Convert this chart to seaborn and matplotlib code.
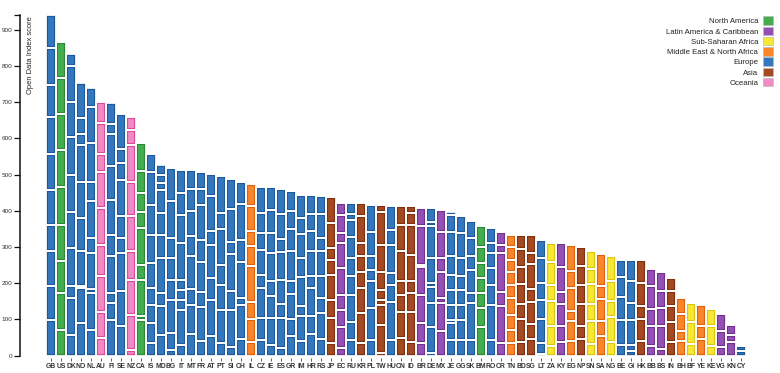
import numpy as np
import matplotlib
matplotlib.use("Agg")
import matplotlib.pyplot as plt
import seaborn as sns
from matplotlib.patches import Patch

countries = ["GB", "US", "DK", "NO", "NL", "AU", "FI", "SE", "NZ", "CA",
             "IS", "MD", "BG", "IT", "MT", "FR", "AT", "PT", "SI", "CH",
             "IL", "CZ", "IE", "ES", "GR", "IM", "HR", "RS", "JP", "EC",
             "RU", "KR", "PL", "TW", "HU", "CN", "ID", "BR", "DE", "MX",
             "JE", "GG", "SK", "BM", "RO", "CR", "TN", "BD", "SG", "LT",
             "ZA", "KY", "EG", "NP", "SN", "SA", "NG", "BE", "GI", "HK",
             "BB", "BS", "IN", "BH", "BF", "YE", "KE", "VG", "KN", "CY"]

EU, NA, LA, SSA, MENA, AS, OC = ("Europe", "North America", "Latin America & Caribbean",
                                 "Sub-Saharan Africa", "Middle East & North Africa",
                                 "Asia", "Oceania")
regions = [EU, NA, EU, EU, EU, OC, EU, EU, OC, NA,
           EU, EU, EU, EU, EU, EU, EU, EU, EU, EU,
           MENA, EU, EU, EU, EU, EU, EU, EU, AS, LA,
           EU, AS, EU, AS, EU, AS, AS, LA, EU, LA,
           EU, EU, EU, NA, EU, LA, MENA, AS, AS, EU,
           SSA, LA, MENA, AS, SSA, MENA, SSA, EU, EU, AS,
           LA, LA, AS, MENA, SSA, MENA, SSA, LA, LA, EU]

# dataset scores (stack order, bottom to top), one value per country
ds1 = [99, 72, 58, 91, 72, 49, 99, 81, 17, 99,
       35, 58, 17, 30, 60, 40, 55, 35, 25, 45,
       37, 44, 30, 20, 55, 41, 60, 46, 34, 20,
       44, 34, 44, 7, 44, 48, 39, 34, 7, 67,
       44, 44, 44, 80, 44, 34, 34, 37, 46, 6,
       28, 37, 41, 46, 32, 55, 37, 30, 12, 41,
       28, 18, 37, 41, 32, 46, 28, 23, 39, 14]
ds2 = [93, 100, 101, 96, 101, 73, 46, 97, 96, 10,
       56, 78, 46, 95, 80, 95, 100, 90, 100, 95,
       64, 60, 74, 83, 46, 69, 50, 73, 69, 60,
       50, 83, 87, 78, 105, 74, 83, 56, 73, 78,
       46, 55, 101, 51, 96, 102, 37, 64, 41, 30,
       55, 46, 55, 37, 64, 41, 69, 69, 18, 60,
       55, 64, 55, 28, 60, 37, 55, 46, 18, 13]
ds3 = [96, 90, 34, 6, 10, 97, 28, 106, 97, 101,
       49, 37, 92, 30, 45, 40, 60, 70, 55, 20,
       46, 83, 60, 41, 69, 28, 78, 41, 51, 46,
       74, 69, 74, 55, 47, 46, 50, 78, 65, 14,
       9, 41, 27, 41, 56, 41, 42, 42, 60, 64,
       69, 60, 28, 60, 46, 60, 46, 64, 69, 37,
       46, 51, 46, 46, 53, 57, 47, 46, 28, 0]
ds4 = [74, 100, 104, 95, 101, 88, 101, 41, 78, 41,
       47, 97, 55, 27, 90, 85, 90, 55, 100, 100,
       101, 37, 42, 64, 37, 78, 32, 60, 69, 42,
       51, 46, 32, 14, 32, 37, 33, 78, 46, 73,
       41, 42, 65, 42, 46, 106, 46, 55, 37, 55,
       42, 32, 64, 51, 55, 37, 55, 55, 46, 64,
       64, 46, 41, 45, 0, 0, 0, 0, 0, 0]
ds5 = [96, 105, 101, 92, 41, 101, 60, 60, 97, 101,
       69, 64, 60, 28, 55, 60, 40, 100, 35, 60,
       55, 69, 78, 78, 83, 55, 69, 69, 42, 74,
       50, 42, 37, 28, 78, 83, 73, 5, 9, 37,
       42, 37, 37, 41, 41, 23, 37, 46, 69, 46,
       64, 69, 46, 55, 42, 87, 68, 47, 60, 63,
       47, 51, 36, 0, 0, 0, 0, 0, 0, 0]
ds6 = [100, 100, 102, 99, 101, 98, 97, 99, 96, 46,
       78, 60, 55, 101, 70, 95, 95, 45, 90, 100,
       42, 46, 55, 37, 60, 64, 55, 37, 32, 70,
       60, 37, 69, 50, 41, 73, 83, 106, 70, 74,
       41, 50, 50, 46, 28, 37, 36, 51, 32, 69,
       52, 66, 71, 51, 51, 0, 0, 0, 60, 0,
       0, 0, 0, 0, 0, 0, 0, 0, 0, 0]
ds7 = [101, 100, 103, 102, 55, 52, 92, 48, 101, 51,
       83, 64, 101, 78, 60, 45, 62, 100, 82, 60,
       69, 55, 64, 69, 51, 46, 46, 64, 69, 28,
       46, 75, 73, 74, 67, 53, 33, 50, 87, 60,
       51, 69, 49, 57, 43, 0, 33, 38, 48, 50,
       0, 0, 0, 0, 0, 0, 0, 0, 0, 0,
       0, 0, 0, 0, 0, 0, 0, 0, 0, 0]
ds8 = [90, 100, 99, 30, 106, 85, 88, 38, 42, 60,
       89, 19, 92, 60, 54, 47, 0, 0, 0, 0,
       61, 71, 62, 68, 54, 64, 55, 50, 73, 49,
       17, 35, 0, 92, 0, 0, 20, 0, 13, 0,
       69, 49, 0, 0, 0, 0, 36, 0, 0, 0,
       0, 0, 0, 0, 0, 0, 0, 0, 0, 0,
       0, 0, 0, 0, 0, 0, 0, 0, 0, 0]
ds9 = [101, 99, 97, 46, 100, 59, 30, 97, 35, 78,
       52, 23, 0, 65, 0, 0, 0, 0, 0, 0,
       0, 0, 0, 0, 0, 0, 0, 0, 0, 32,
       29, 0, 0, 18, 0, 0, 0, 0, 37, 0,
       46, 0, 0, 0, 0, 0, 32, 0, 0, 0,
       0, 0, 0, 0, 0, 0, 0, 0, 0, 0,
       0, 0, 0, 0, 0, 0, 0, 0, 0, 0]
ds10 = [91, 0, 34, 96, 52, 0, 56, 0, 0, 0,
        0, 28, 0, 0, 0, 0, 0, 0, 0, 0,
        0, 0, 0, 0, 0, 0, 0, 0, 0, 0,
        0, 0, 0, 0, 0, 0, 0, 0, 0, 0,
        8, 0, 0, 0, 0, 0, 0, 0, 0, 0,
        0, 0, 0, 0, 0, 0, 0, 0, 0, 0,
        0, 0, 0, 0, 0, 0, 0, 0, 0, 0]

legend_order = [NA, LA, SSA, MENA, EU, AS, OC]
region_fill = {
    NA: "#44ad4f",
    LA: "#9550b3",
    SSA: "#f8e835",
    MENA: "#f8862c",
    EU: "#3577bd",
    AS: "#a34a22",
    OC: "#f08cc4",
}
region_edge = {
    NA: "#2b8a36",
    LA: "#72308f",
    SSA: "#dcc70f",
    MENA: "#e2620c",
    EU: "#1d5a9c",
    AS: "#7f3010",
    OC: "#dd4a9c",
}

layers = [ds1, ds2, ds3, ds4, ds5, ds6, ds7, ds8, ds9, ds10]
for lay in layers:
    assert len(lay) == len(countries)

sns.set_theme(style="white")
plt.rcParams["font.family"] = ["Liberation Sans", "DejaVu Sans"]

fig = plt.figure(figsize=(7.8, 3.73), dpi=100)
ax = fig.add_axes([20 / 780, 17.3 / 373, 752 / 780, (358 - 17.3) / 373])

fills = [region_fill[r] for r in regions]
edges = [region_edge[r] for r in regions]
BAR_W = 0.95

# coloured segments with an inner darker outline
bottom = np.zeros(len(countries))
bottoms = []
for lay in layers:
    vals = np.array(lay, dtype=float)
    bottoms.append(bottom.copy())
    n_before = len(ax.patches)
    sns.barplot(x=countries, y=vals, order=countries, errorbar=None,
                color=region_fill[EU], saturation=1,
                bottom=bottom, width=BAR_W, linewidth=3.0, ax=ax)
    for p, fc, ec in zip(ax.patches[n_before:], fills, edges):
        p.set_facecolor(fc)
        p.set_edgecolor(ec)
        p.set_linewidth(3.0)
        p.set_clip_path(p)
    bottom = bottom + vals

# white gaps between segments
for lay, b in zip(layers, bottoms):
    vals = np.array(lay, dtype=float)
    sns.barplot(x=countries, y=vals, order=countries, errorbar=None,
                color="white", saturation=1, fill=False,
                bottom=b, width=BAR_W, linewidth=1.25, ax=ax)

ymax = 941
ax.set_ylim(0, ymax)
ax.set_xlim(-3.1, 72.1)
ax.set_xlabel("")
ax.set_ylabel("")

for s in ["top", "right", "bottom"]:
    ax.spines[s].set_visible(False)
ax.spines["left"].set_color("#111111")
ax.spines["left"].set_linewidth(1.1)
ax.spines["bottom"].set_position(("outward", 2))

ax.set_yticks(range(0, 1000, 100))
ax.set_yticks([ymax], minor=True)
ax.tick_params(axis="y", which="both", left=True, length=4.3, width=0.9,
               color="#111111", pad=1.0, labelsize=4.6, labelcolor="#333333")
ax.set_xticks(range(len(countries)))
ax.set_xticklabels(countries, fontsize=4.9, fontweight="bold", color="#333333")
ax.tick_params(axis="x", bottom=True, length=1.8, width=0.6, color="#444444",
               pad=1.2)

fig.text(30 / 780, 1 - 16 / 373, "Open Data Index score", rotation=90,
         ha="center", va="top", fontsize=5.4, color="#222222")

handles = [Patch(facecolor=region_fill[r], edgecolor="#bbbbbb", linewidth=0.5,
                 label=r) for r in legend_order]
leg = ax.legend(handles=handles, loc="upper right", markerfirst=False,
                bbox_to_anchor=(773 / 780, 1 - 16.5 / 373),
                bbox_transform=fig.transFigure, frameon=False,
                fontsize=5.6, handlelength=1.3, handleheight=1.3,
                handletextpad=0.6, labelspacing=0.18, borderpad=0,
                borderaxespad=0)
for t in leg.get_texts():
    t.set_color("#222222")

fig.savefig("out.png", dpi=100)
